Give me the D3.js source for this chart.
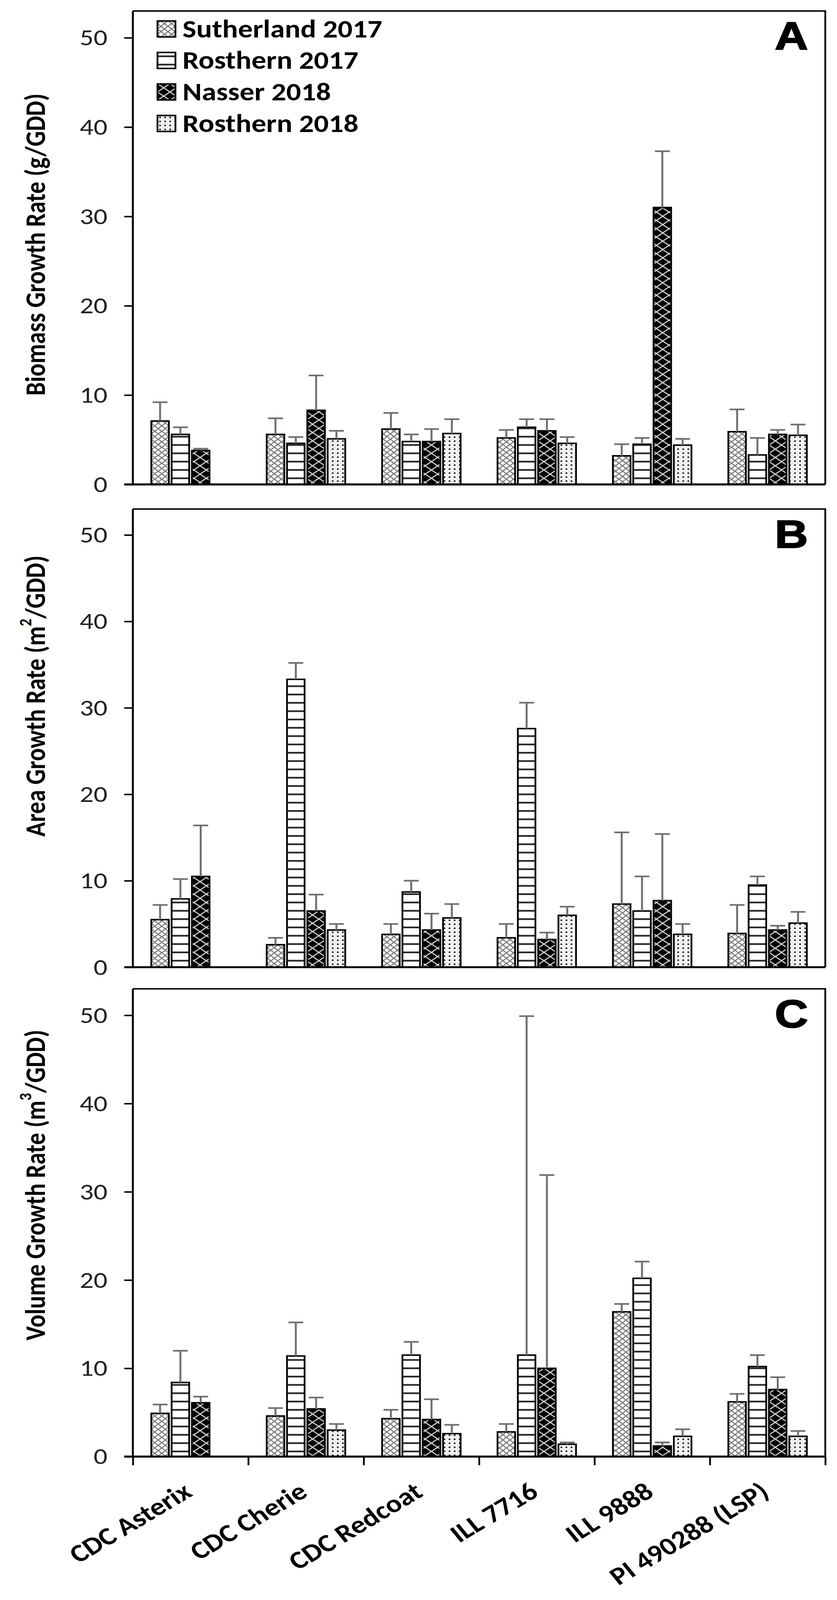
<!DOCTYPE html>
<html lang="en">
<head>
    <meta charset="UTF-8">
    <title>Growth rates</title>
    <style>
        html, body{ margin: 0; background: #fff; overflow: hidden; }
        svg{
            display: block;
            width: 100vw;
            height: 100vh;
        }
        text{ font-family: Carlito, Lato, "Open Sans", sans-serif; }
    </style>
    <script src="https://cdn.jsdelivr.net/npm/d3@7"></script>
</head>
<body>
<script>
    const width = 2142
    const height = 4809

    // data, rows = cultivars, columns = site-years
    const categories = ["CDC Asterix", "CDC Cherie", "CDC Redcoat", "ILL 7716", "ILL 9888", "PI 490288 (LSP)"]
    const series = ["Sutherland 2017", "Rosthern 2017", "Nasser 2018", "Rosthern 2018"]
    const yTicks = [0, 10, 20, 30, 40, 50]

    const biomassMean = [
        [7.1, 5.6, 3.8, null],
        [5.6, 4.6, 8.3, 5.1],
        [6.2, 4.8, 4.8, 5.7],
        [5.2, 6.4, 6.0, 4.6],
        [3.2, 4.5, 31.0, 4.4],
        [5.9, 3.3, 5.6, 5.5]]
    const biomassErr = [
        [2.1, 0.8, 0.2, null],
        [1.8, 0.7, 3.9, 0.9],
        [1.8, 0.8, 1.4, 1.6],
        [0.9, 0.9, 1.3, 0.7],
        [1.3, 0.7, 6.3, 0.7],
        [2.5, 1.9, 0.5, 1.2]]

    const areaMean = [
        [5.5, 7.9, 10.5, null],
        [2.6, 33.3, 6.5, 4.3],
        [3.8, 8.7, 4.3, 5.7],
        [3.4, 27.6, 3.2, 6.0],
        [7.3, 6.5, 7.7, 3.8],
        [3.9, 9.5, 4.3, 5.1]]
    const areaErr = [
        [1.7, 2.3, 5.9, null],
        [0.8, 1.9, 1.9, 0.7],
        [1.2, 1.3, 1.9, 1.6],
        [1.6, 3.0, 0.8, 1.0],
        [8.3, 4.0, 7.7, 1.2],
        [3.3, 1.0, 0.5, 1.3]]

    const volumeMean = [
        [4.9, 8.4, 6.1, null],
        [4.6, 11.4, 5.4, 3.0],
        [4.3, 11.5, 4.2, 2.6],
        [2.8, 11.5, 10.0, 1.4],
        [16.4, 20.2, 1.2, 2.3],
        [6.2, 10.2, 7.6, 2.3]]
    const volumeErr = [
        [1.0, 3.6, 0.7, null],
        [0.9, 3.8, 1.3, 0.7],
        [1.0, 1.5, 2.3, 1.0],
        [0.9, 38.4, 21.9, 0.2],
        [0.9, 1.9, 0.4, 0.8],
        [0.9, 1.3, 1.4, 0.6]]

    const panels = [
        {letter: "A", title: ["Biomass Growth Rate (g/GDD)"], mean: biomassMean, err: biomassErr, top: 33, bottom: 1456, titleY: 735},
        {letter: "B", title: ["Area Growth Rate (m", "2", "/GDD)"], mean: areaMean, err: areaErr, top: 1530, bottom: 2907, titleY: 2092},
        {letter: "C", title: ["Volume Growth Rate (m", "3", "/GDD)"], mean: volumeMean, err: volumeErr, top: 2972, bottom: 4378, titleY: 3562}
    ]

    const left = 340, right = 2112

    // viewBox keeps the drawing inside whatever window it gets
    let svg = d3.select("body").append("svg")
        .attr("viewBox", `0 0 ${width} ${height}`)
        .attr("preserveAspectRatio", "none")

    // fill patterns, one per site-year
    let defs = svg.append("defs")
    let p0 = defs.append("pattern").attr("id", "pat0").attr("patternUnits", "userSpaceOnUse")
        .attr("width", 18).attr("height", 16)
    p0.append("rect").attr("width", 18).attr("height", 16).attr("fill", "#fff")
    p0.append("path").attr("d", "M0,0L18,16M18,0L0,16").attr("stroke", "#7a7a7a").attr("stroke-width", 3)

    let p1 = defs.append("pattern").attr("id", "pat1").attr("patternUnits", "userSpaceOnUse")
        .attr("width", 10).attr("height", 25)
    p1.append("rect").attr("width", 10).attr("height", 25).attr("fill", "#fff")
    p1.append("rect").attr("y", 10).attr("width", 10).attr("height", 5).attr("fill", "#222")

    let p2 = defs.append("pattern").attr("id", "pat2").attr("patternUnits", "userSpaceOnUse")
        .attr("width", 32).attr("height", 25)
    p2.append("rect").attr("width", 32).attr("height", 25).attr("fill", "#000")
    p2.append("path").attr("d", "M0,0L32,25M32,0L0,25").attr("stroke", "#d6d6d6").attr("stroke-width", 3)

    let p3 = defs.append("pattern").attr("id", "pat3").attr("patternUnits", "userSpaceOnUse")
        .attr("width", 13).attr("height", 12)
    p3.append("rect").attr("width", 13).attr("height", 12).attr("fill", "#fff")
    p3.append("path").attr("d", "M0,0H13M0,0V12").attr("stroke", "#c4c4c4").attr("stroke-width", 1.5)
    p3.append("circle").attr("cx", 6.5).attr("cy", 6).attr("r", 2.7).attr("fill", "#333")

    const x0 = d3.scaleBand().domain(categories).range([left, right])
        .paddingInner(0.296).paddingOuter(0.148)
    const x1 = d3.scaleBand().domain(series).range([0, x0.bandwidth()])

    panels.forEach((p, pi) => {
        const y = d3.scaleLinear().domain([0, 53]).range([p.bottom, p.top])
        let g = svg.append("g")

        // frame (top + right)
        g.append("path")
            .attr("d", `M${left},${p.top}H${right}V${p.bottom}`)
            .attr("fill", "none").attr("stroke", "#000").attr("stroke-width", 4.5)

        // bars
        let rows = []
        categories.forEach((c, ci) => series.forEach((s, si) => {
            if (p.mean[ci][si] != null) rows.push({c, s, si, v: p.mean[ci][si], e: p.err[ci][si]})
        }))
        const bw = x1.bandwidth()
        g.selectAll(".bar").data(rows).enter().append("rect")
            .attr("x", d => x0(d.c) + x1(d.s) + 3.5)
            .attr("width", bw - 7)
            .attr("y", d => y(d.v))
            .attr("height", d => y(0) - y(d.v))
            .attr("fill", d => `url(#pat${d.si})`)
            .attr("stroke", "#000").attr("stroke-width", 4.5)

        // error bars (upper only)
        let eb = g.selectAll(".err").data(rows).enter().append("g")
            .attr("stroke", "#707070").attr("stroke-width", 5)
        eb.append("line")
            .attr("x1", d => x0(d.c) + x1(d.s) + bw / 2).attr("x2", d => x0(d.c) + x1(d.s) + bw / 2)
            .attr("y1", d => y(d.v)).attr("y2", d => y(d.v + d.e))
        eb.append("line")
            .attr("x1", d => x0(d.c) + x1(d.s) + bw / 2 - 19).attr("x2", d => x0(d.c) + x1(d.s) + bw / 2 + 19)
            .attr("y1", d => y(d.v + d.e)).attr("y2", d => y(d.v + d.e))

        // y axis
        let ya = g.append("g").attr("transform", `translate(${left},0)`)
            .call(d3.axisLeft(y).tickValues(yTicks).tickSize(22).tickPadding(43).tickSizeOuter(0))
        ya.select(".domain").attr("stroke-width", 5).attr("d", `M0,${p.top}V${p.bottom}`)
        ya.selectAll(".tick line").attr("stroke-width", 4.5)
        ya.selectAll(".tick text").attr("font-size", 70).attr("fill", "#222")
            .style("font-family", "Carlito, Lato, 'Open Sans', sans-serif")

        // x axis line, ticks only on the bottom panel
        let xa = g.append("g").attr("transform", `translate(0,${p.bottom})`)
        if (pi === 2) {
            xa.call(d3.axisBottom(d3.scaleLinear().domain([0, categories.length]).range([left, right]))
                .ticks(categories.length).tickSize(26).tickFormat(""))
            xa.selectAll(".tick line").attr("stroke-width", 4.5)
            xa.select(".domain").remove()
        }
        xa.append("line").attr("x1", left - 22).attr("x2", right)
            .attr("stroke", "#000").attr("stroke-width", 6)

        // y title
        let t = g.append("text")
            .attr("transform", `translate(90,${p.titleY}) rotate(-90)`)
            .attr("text-anchor", "middle").attr("dominant-baseline", "central")
            .attr("font-size", 72).attr("font-weight", "bold")
        t.append("tspan").text(p.title[0])
        if (p.title.length > 1) {
            t.append("tspan").attr("font-size", 45).attr("dy", -26).text(p.title[1])
            t.append("tspan").attr("dy", 26).text(p.title[2])
        }

        // panel letter
        g.append("text").attr("x", 2068).attr("y", p.top + 116)
            .attr("text-anchor", "end").attr("font-size", 118).attr("font-weight", "bold")
            .attr("stroke", "#000").attr("stroke-width", 3)
            .style("font-family", "'Liberation Sans', Arial, sans-serif")
            .text(p.letter)
    })

    // category labels under panel C
    svg.append("g").selectAll("text").data(categories).enter().append("text")
        .attr("transform", d => `translate(${x0(d) + x0.bandwidth() / 2 + 8},${4378 + 116}) rotate(-35)`)
        .attr("text-anchor", "end")
        .attr("font-size", 75).attr("font-weight", "bold")
        .text(d => d)

    // legend
    let lg = svg.append("g").selectAll("g").data(series).enter().append("g")
        .attr("transform", (d, i) => `translate(403,${87 + i * 94.7})`)
    lg.append("rect").attr("y", -24).attr("width", 46).attr("height", 48)
        .attr("fill", (d, i) => `url(#pat${i})`).attr("stroke", "#000").attr("stroke-width", 4.5)
    lg.append("text").attr("x", 64).attr("dominant-baseline", "central")
        .attr("font-size", 75).attr("font-weight", "bold")
        .text(d => d)
</script>
</body>
</html>
